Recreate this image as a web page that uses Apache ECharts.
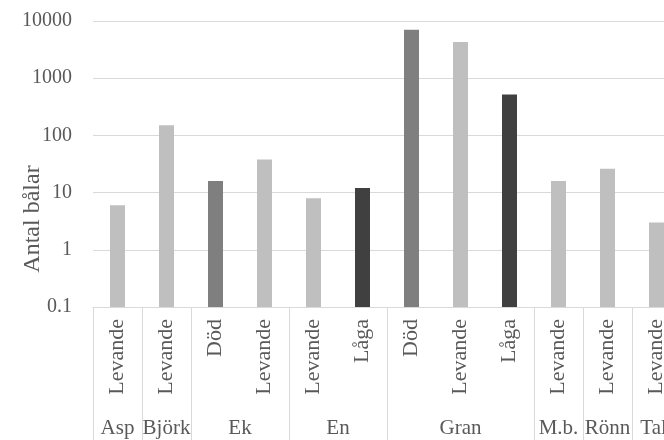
<!DOCTYPE html>
<html>
<head>
<meta charset="utf-8">
<title>Antal bålar per trädslag</title>
<script src="https://cdn.jsdelivr.net/npm/echarts@6/dist/echarts.min.js"></script>
<style>
  html, body { margin: 0; padding: 0; background: #ffffff; }
  #chart { width: 664px; height: 440px; }
</style>
</head>
<body>
<div id="chart"></div>
<script>
// Tree species (outer category level) and how many sub-categories each one has
const groups = ['Asp', 'Björk', 'Ek', 'En', 'Gran', 'M.b.', 'Rönn', 'Tall'];
const groupSizes = [1, 1, 2, 2, 3, 1, 1, 1];

// Inner category level: state of the wood, one per bar
const states = ['Levande', 'Levande', 'Död', 'Levande', 'Levande', 'Låga',
                'Död', 'Levande', 'Låga', 'Levande', 'Levande', 'Levande'];

// Number of logs per bar
const counts = [6, 150, 16, 38, 8, 12, 7000, 4300, 520, 16, 26, 3];

// Labels of the logarithmic value axis
const yTickLabels = ['0.1', '1', '10', '100', '1000', '10000'];

const stateColors = { 'Levande': '#bfbfbf', 'Död': '#7f7f7f', 'Låga': '#404040' };
const FONT = 'Liberation Serif';
const TEXT = '#595959';
const RULE = '#d9d9d9';
const Y_MIN = 0.1;
const BAR_WIDTH = 15;

// Group boundaries and centres expressed in slot units (one slot per bar)
const boundaries = [0];
const centres = [];
groupSizes.forEach(function (n) {
  const start = boundaries[boundaries.length - 1];
  centres.push(start + n / 2);
  boundaries.push(start + n);
});
const nSlots = states.length;

const chart = echarts.init(document.getElementById('chart'), null, { renderer: 'canvas' });

// Bars rise from the bottom of the log axis (0.1) up to their count
function renderBar(params, api) {
  const i = api.value(0);
  const top = api.coord([i, api.value(1)]);
  const base = api.coord([i, Y_MIN]);
  return {
    type: 'rect',
    shape: {
      x: top[0] - BAR_WIDTH / 2,
      y: top[1],
      width: BAR_WIDTH,
      height: base[1] - top[1]
    },
    style: { fill: api.visual('color') }
  };
}

chart.setOption({
  animation: false,
  backgroundColor: '#ffffff',
  grid: {
    left: 93, width: 588, top: 21, bottom: 133,
    containLabel: false,
    outerBoundsMode: 'none'
  },
  xAxis: [
    {
      type: 'category',
      data: states,
      position: 'bottom',
      boundaryGap: true,
      axisLine: { show: true, lineStyle: { color: RULE, width: 1 } },
      axisTick: { show: false },
      splitLine: { show: false },
      axisLabel: {
        interval: 0,
        rotate: 90,
        margin: 12,
        fontFamily: FONT,
        fontSize: 22,
        color: TEXT
      }
    },
    {
      type: 'value',
      min: 0,
      max: nSlots,
      position: 'bottom',
      axisLine: { show: false },
      splitLine: { show: false },
      axisTick: {
        show: true,
        customValues: boundaries,
        length: 136,
        lineStyle: { color: RULE, width: 1 }
      },
      axisLabel: {
        show: true,
        customValues: centres,
        margin: 111,
        fontFamily: FONT,
        fontSize: 21,
        color: TEXT,
        formatter: function (v) {
          const i = centres.indexOf(v);
          return i >= 0 ? groups[i] : '';
        }
      }
    }
  ],
  yAxis: {
    type: 'log',
    logBase: 10,
    min: Y_MIN,
    max: 10000,
    axisLine: { show: false },
    axisTick: { show: false },
    splitLine: { show: true, lineStyle: { color: RULE, width: 1 } },
    axisLabel: {
      margin: 21,
      fontFamily: FONT,
      fontSize: 20,
      color: TEXT,
      formatter: function (v) {
        const k = Math.round(Math.log10(v)) + 1;
        return yTickLabels[k] !== undefined ? yTickLabels[k] : '';
      }
    }
  },
  graphic: [
    {
      type: 'text',
      x: 33,
      y: 219,
      rotation: Math.PI / 2,
      style: {
        text: 'Antal bålar',
        fontFamily: FONT,
        fontSize: 24,
        fill: TEXT,
        align: 'center',
        verticalAlign: 'middle'
      }
    }
  ],
  series: [
    {
      type: 'custom',
      xAxisIndex: 0,
      yAxisIndex: 0,
      renderItem: renderBar,
      encode: { x: 0, y: 1 },
      data: counts.map(function (v, i) {
        return { value: [i, v], itemStyle: { color: stateColors[states[i]] } };
      })
    }
  ]
});
</script>
</body>
</html>
